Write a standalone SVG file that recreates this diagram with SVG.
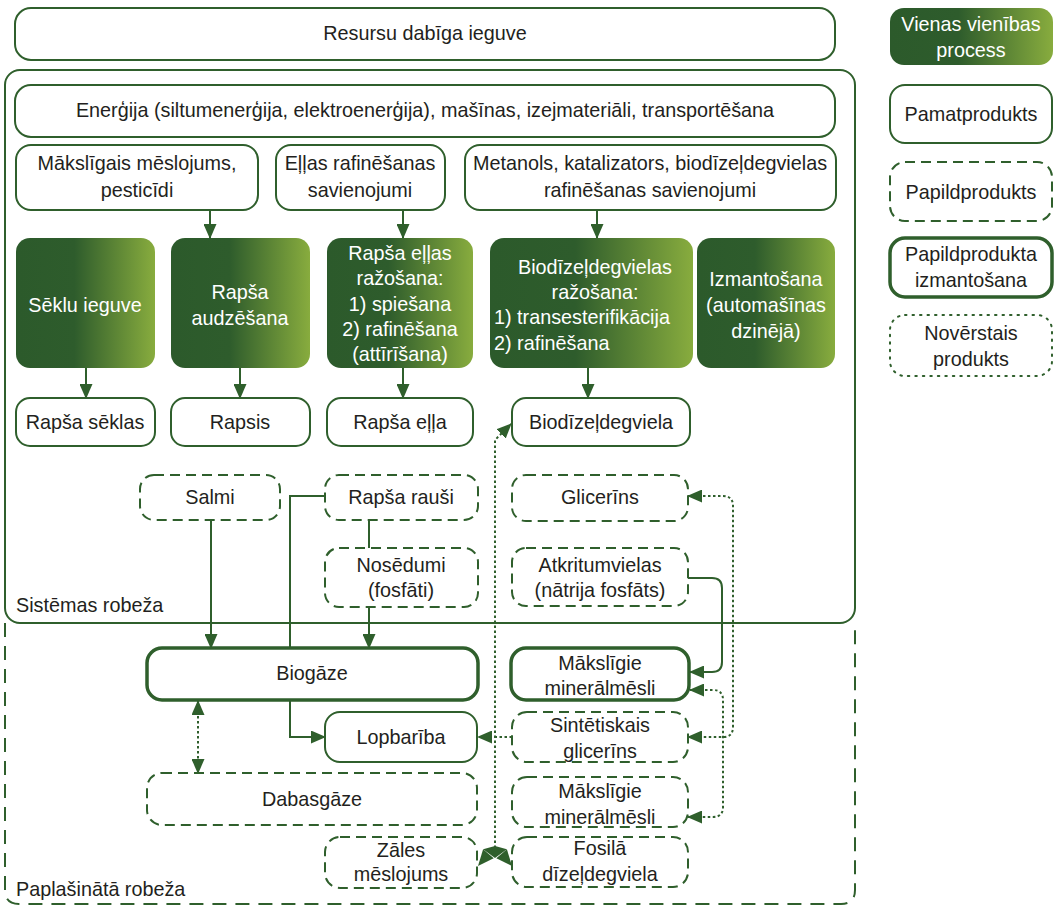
<svg xmlns="http://www.w3.org/2000/svg" width="1055" height="907" viewBox="0 0 1055 907">
<defs>
<linearGradient id="g" x1="0" y1="0" x2="1" y2="0">
<stop offset="0" stop-color="#2c5a2b"/>
<stop offset="0.42" stop-color="#2e5c2c"/>
<stop offset="1" stop-color="#88ac3e"/>
</linearGradient>
<marker id="ah" markerUnits="userSpaceOnUse" markerWidth="15" markerHeight="13" refX="14" refY="6.5" orient="auto-start-reverse">
<path d="M0,0 L15,6.5 L0,13 Z" fill="#2f5f2c"/>
</marker>
<style>
.t{font-family:"Liberation Sans",Arial,sans-serif;font-size:19.8px;fill:#231f20;text-anchor:middle}
.w{fill:#ffffff}
.s{text-anchor:start}
.box{fill:#ffffff;stroke:#2f5f2c;stroke-width:2}
.dash{stroke-dasharray:10 6}
.thick{stroke-width:3.5}
.ndot{stroke-dasharray:1.5 6;stroke-linecap:round}
.proc{fill:url(#g)}
.ln{fill:none;stroke:#2f5f2c;stroke-width:2}
.dot{stroke-dasharray:2.5 2.5}
.bound{fill:none;stroke:#2f5f2c;stroke-width:2}
.head{fill:#2f5f2c}
</style>
</defs>
<rect width="1055" height="907" fill="#ffffff"/>

<g id="boundaries">
<rect x="5" y="70" width="850" height="553" rx="15" class="bound"/>
<path d="M5,623 V890 Q5,904 19,904 H841 Q855,904 855,890 V623" class="bound" stroke-dasharray="14 9"/>
<text x="16" y="612" class="t s">Sistēmas robeža</text>
<text x="16" y="896" class="t s">Paplašinātā robeža</text>
</g>

<g id="connectors">
<path d="M210,210 V238" class="ln" marker-end="url(#ah)"/>
<path d="M403,210 V238" class="ln" marker-end="url(#ah)"/>
<path d="M597,210 V238" class="ln" marker-end="url(#ah)"/>
<path d="M86,368 V398" class="ln" marker-end="url(#ah)"/>
<path d="M240,368 V398" class="ln" marker-end="url(#ah)"/>
<path d="M403,368 V398" class="ln" marker-end="url(#ah)"/>
<path d="M588,368 V398" class="ln" marker-end="url(#ah)"/>
<path d="M211,520 V648" class="ln" marker-end="url(#ah)"/>
<path d="M369,520 V548" class="ln"/>
<path d="M369,607 V648" class="ln" marker-end="url(#ah)"/>
<path d="M325,496 H290 V737 H325" class="ln" marker-end="url(#ah)"/>
<path d="M198,701 V773" class="ln dot" marker-start="url(#ah)" marker-end="url(#ah)"/>
<path d="M512,737 H478" class="ln dot" marker-end="url(#ah)"/>
<path d="M688,578 H712 Q722,578 722,588 V662 Q722,672 712,672 H690" class="ln" marker-end="url(#ah)"/>
<path d="M690,690 H713 Q723,690 723,700 V807 Q723,817 713,817 H688" class="ln dot" marker-start="url(#ah)" marker-end="url(#ah)"/>
<path d="M688,496 H723 Q733,496 733,506 V727 Q733,737 723,737 H688" class="ln dot" marker-start="url(#ah)" marker-end="url(#ah)"/>
<path d="M495,848 V440 L511,424" class="ln dot" marker-end="url(#ah)"/>
<path d="M478,866 L493.7,858.3 L483.1,849.3 Z" class="head"/>
<path d="M512,866 L496.3,858.3 L506.9,849.3 Z" class="head"/>
<path d="M483.1,849.3 L495,846 L506.9,849.3 L495,858 Z" class="head"/>
</g>

<g id="n-resursu"><rect x="15" y="8" width="820" height="52" rx="16" class="box"/><text x="425" y="40" class="t">Resursu dabīga ieguve</text></g>
<g id="n-energija"><rect x="15" y="85" width="820" height="52" rx="16" class="box"/><text x="425" y="117" class="t">Enerģija (siltumenerģija, elektroenerģija), mašīnas, izejmateriāli, transportēšana</text></g>
<g id="n-meslojums"><rect x="16" y="145" width="242" height="65" rx="15" class="box"/><text x="137" y="170" class="t">Mākslīgais mēslojums,</text><text x="137" y="197" class="t">pesticīdi</text></g>
<g id="n-ellas-raf"><rect x="276" y="145" width="169" height="65" rx="15" class="box"/><text x="360" y="170" class="t">Eļļas rafinēšanas</text><text x="360" y="197" class="t">savienojumi</text></g>
<g id="n-metanols"><rect x="465" y="145" width="371" height="65" rx="15" class="box"/><text x="650" y="170" class="t">Metanols, katalizators, biodīzeļdegvielas</text><text x="650" y="197" class="t">rafinēšanas savienojumi</text></g>

<g id="p-seklu"><rect x="16" y="238" width="139" height="130" rx="14" class="proc"/><text x="85" y="312" class="t w">Sēklu ieguve</text></g>
<g id="p-audzesana"><rect x="171" y="238" width="139" height="130" rx="14" class="proc"/><text x="240" y="299" class="t w">Rapša</text><text x="240" y="325" class="t w">audzēšana</text></g>
<g id="p-ellas"><rect x="327" y="238" width="146" height="130" rx="14" class="proc"/><text x="400" y="260" class="t w">Rapša eļļas</text><text x="400" y="285" class="t w">ražošana:</text><text x="400" y="311" class="t w">1) spiešana</text><text x="400" y="336" class="t w">2) rafinēšana</text><text x="400" y="361" class="t w">(attīrīšana)</text></g>
<g id="p-biodizel"><rect x="490" y="238" width="203" height="130" rx="14" class="proc"/><text x="595" y="274" class="t w">Biodīzeļdegvielas</text><text x="595" y="299" class="t w">ražošana:</text><text x="494" y="324" class="t w s">1) transesterifikācija</text><text x="494" y="350" class="t w s">2) rafinēšana</text></g>
<g id="p-izmantosana"><rect x="697" y="238" width="138" height="130" rx="14" class="proc"/><text x="766" y="286" class="t w">Izmantošana</text><text x="766" y="312" class="t w">(automašīnas</text><text x="766" y="338" class="t w">dzinējā)</text></g>

<g id="n-seklas"><rect x="16" y="398" width="139" height="48" rx="14" class="box"/><text x="85" y="429" class="t">Rapša sēklas</text></g>
<g id="n-rapsis"><rect x="171" y="398" width="139" height="48" rx="14" class="box"/><text x="240" y="429" class="t">Rapsis</text></g>
<g id="n-ella"><rect x="327" y="398" width="146" height="48" rx="14" class="box"/><text x="400" y="429" class="t">Rapša eļļa</text></g>
<g id="n-biodizelis"><rect x="512" y="398" width="178" height="48" rx="14" class="box"/><text x="601" y="429" class="t">Biodīzeļdegviela</text></g>

<g id="n-salmi"><rect x="140" y="475" width="140" height="45" rx="14" class="box dash"/><text x="210" y="504" class="t">Salmi</text></g>
<g id="n-rausi"><rect x="325" y="475" width="153" height="45" rx="14" class="box dash"/><text x="401" y="504" class="t">Rapša rauši</text></g>
<g id="n-nosedumi"><rect x="325" y="548" width="153" height="59" rx="14" class="box dash"/><text x="401" y="572" class="t">Nosēdumi</text><text x="401" y="597" class="t">(fosfāti)</text></g>
<g id="n-glicerins"><rect x="512" y="475" width="176" height="46" rx="14" class="box dash"/><text x="600" y="504" class="t">Glicerīns</text></g>
<g id="n-atkritumvielas"><rect x="512" y="548" width="176" height="58" rx="14" class="box dash"/><text x="600" y="572" class="t">Atkritumvielas</text><text x="600" y="597" class="t">(nātrija fosfāts)</text></g>

<g id="n-biogaze"><rect x="147" y="648" width="331" height="52" rx="15" class="box thick"/><text x="312" y="680" class="t">Biogāze</text></g>
<g id="n-minmesli1"><rect x="511" y="648" width="178" height="52" rx="15" class="box thick"/><text x="600" y="670" class="t">Mākslīgie</text><text x="600" y="695" class="t">minerālmēsli</text></g>
<g id="n-lopbariba"><rect x="325" y="712" width="152" height="50" rx="15" class="box"/><text x="401" y="744" class="t">Lopbarība</text></g>
<g id="n-sintetiskais"><rect x="512" y="712" width="176" height="50" rx="15" class="box dash"/><text x="600" y="732" class="t">Sintētiskais</text><text x="600" y="758" class="t">glicerīns</text></g>
<g id="n-dabasgaze"><rect x="147" y="773" width="330" height="52" rx="15" class="box dash"/><text x="312" y="806" class="t">Dabasgāze</text></g>
<g id="n-minmesli2"><rect x="512" y="777" width="176" height="50" rx="15" class="box dash"/><text x="600" y="798" class="t">Mākslīgie</text><text x="600" y="824" class="t">minerālmēsli</text></g>
<g id="n-zales"><rect x="325" y="837" width="152" height="51" rx="15" class="box dash"/><text x="401" y="857" class="t">Zāles</text><text x="401" y="881" class="t">mēslojums</text></g>
<g id="n-fosila"><rect x="512" y="837" width="176" height="50" rx="15" class="box dash"/><text x="600" y="855" class="t">Fosilā</text><text x="600" y="881" class="t">dīzeļdegviela</text></g>

<g id="legend">
<g id="l-process"><rect x="890" y="8" width="163" height="57" rx="14" class="proc"/><text x="971" y="31" class="t w">Vienas vienības</text><text x="971" y="57" class="t w">process</text></g>
<g id="l-pamat"><rect x="890" y="85" width="162" height="58" rx="15" class="box"/><text x="971" y="121" class="t">Pamatprodukts</text></g>
<g id="l-papild"><rect x="890" y="162" width="162" height="59" rx="15" class="box dash"/><text x="971" y="199" class="t">Papildprodukts</text></g>
<g id="l-izmant"><rect x="890" y="238" width="162" height="59" rx="15" class="box thick"/><text x="971" y="261" class="t">Papildprodukta</text><text x="971" y="287" class="t">izmantošana</text></g>
<g id="l-novers"><rect x="890" y="315" width="162" height="61" rx="15" class="box ndot"/><text x="971" y="340" class="t">Novērstais</text><text x="971" y="366" class="t">produkts</text></g>
</g>
</svg>
